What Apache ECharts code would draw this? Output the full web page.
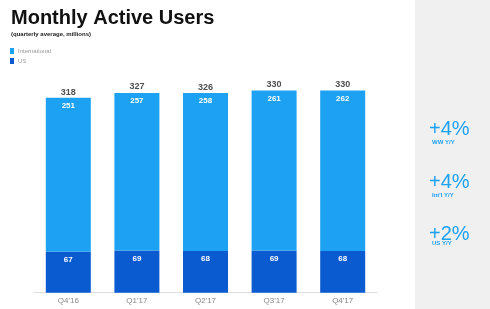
<!DOCTYPE html>
<html><head><meta charset="utf-8">
<script src="https://cdn.jsdelivr.net/npm/echarts@6/dist/echarts.min.js"></script>
<style>html,body{margin:0;padding:0;background:#fff}#c{width:490px;height:309px}</style>
</head><body><div id="c"></div>
<script>
const categories = ["Q4'16", "Q1'17", "Q2'17", "Q3'17", "Q4'17"];
const international = [251, 257, 258, 261, 262];
const us = [67, 69, 68, 69, 68];
const totals = [318, 327, 326, 330, 330];
const growth = [
  { big: '+4%', small: 'WW Y/Y' },
  { big: '+4%', small: "Int'l Y/Y" },
  { big: '+2%', small: 'US Y/Y' }
];
const LIGHT = '#1da1f2', DARK = '#0a5bd0', FONT = '"Liberation Sans", Arial, sans-serif';
const chart = echarts.init(document.getElementById('c'));
const bigY = [129, 182, 234], smallY = [142.5, 195, 243.5];
const graphics = [{ type: 'rect', shape: { x: 415, y: 0, width: 75, height: 309 }, style: { fill: '#f0f0f0' }, z: -10 }];
growth.forEach((g, i) => {
  graphics.push({ type: 'text', x: 429, y: bigY[i], style: { text: g.big, font: '20px ' + FONT, fill: LIGHT, textVerticalAlign: 'middle' } });
  graphics.push({ type: 'text', x: 432, y: smallY[i], style: { text: g.small, font: 'bold 6px ' + FONT, fill: LIGHT, textVerticalAlign: 'middle' } });
});
chart.setOption({
  animation: false,
  textStyle: { fontFamily: FONT },
  title: {
    text: 'Monthly Active Users', left: 6, top: 3,
    textStyle: { fontSize: 20, fontWeight: 'bold', color: '#111', fontFamily: FONT },
    subtext: '(quarterly average, millions)', itemGap: 3,
    subtextStyle: { fontSize: 6, fontWeight: 'bold', color: '#222', fontFamily: FONT }
  },
  legend: {
    data: ['International', 'US'], orient: 'vertical', left: 10, top: 48, padding: 0,
    itemWidth: 4, itemHeight: 6, itemGap: 4, icon: 'rect',
    textStyle: { fontSize: 6, color: '#999', padding: [0, 0, 0, -1] }
  },
  graphic: graphics,
  grid: { left: 34, right: 113, top: 90.5, bottom: 16.3 },
  xAxis: {
    type: 'category', data: categories,
    axisLine: { lineStyle: { color: '#ddd' } }, axisTick: { show: false },
    axisLabel: { color: '#888', fontSize: 8, margin: 4 }
  },
  yAxis: { type: 'value', min: 0, max: 330, show: false, splitLine: { show: false } },
  series: [
    { name: 'US', type: 'bar', stack: 'a', data: us, barWidth: 45, itemStyle: { color: DARK },
      label: { show: true, position: 'insideTop', distance: 4, color: '#fff', fontSize: 8, fontWeight: 'bold' } },
    { name: 'International', type: 'bar', stack: 'a', data: international, itemStyle: { color: LIGHT },
      label: { show: true, position: 'insideTop', distance: 4, color: '#fff', fontSize: 8, fontWeight: 'bold' } },
    { name: 'Total', type: 'scatter', data: totals, symbolSize: 0, z: 5,
      label: { show: true, position: 'top', distance: 1, color: '#222', fontSize: 9, fontWeight: 'bold' } }
  ]
});
</script></body></html>
